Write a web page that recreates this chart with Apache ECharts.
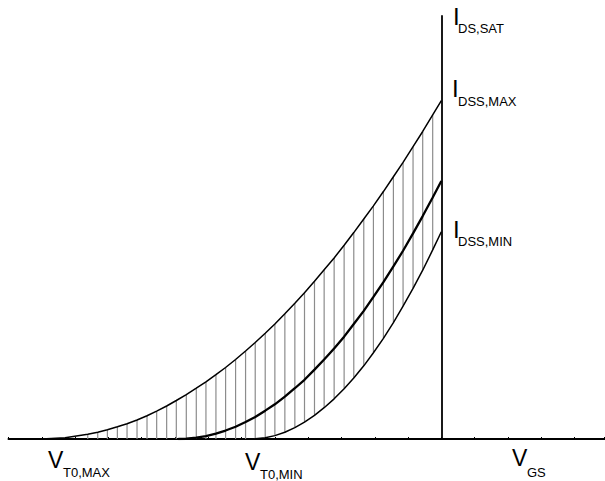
<!DOCTYPE html>
<html>
<head>
<meta charset="utf-8">
<script src="https://cdn.jsdelivr.net/npm/echarts@6/dist/echarts.min.js"></script>
<style>
  html, body { margin: 0; padding: 0; background: #fff; }
  #chart { width: 605px; height: 481px; }
</style>
</head>
<body>
<div id="chart"></div>
<script>
// hatch positions (x, in V units) and curve heights read at each of them
const hatchX = [-10.62, -10.32, -10.03, -9.73, -9.44, -9.14, -8.84, -8.55, -8.25, -7.96,
  -7.66, -7.36, -7.07, -6.77, -6.48, -6.18, -5.88, -5.59, -5.29, -5.0,
  -4.7, -4.4, -4.11, -3.81, -3.52, -3.22, -2.92, -2.63, -2.33, -2.04,
  -1.74, -1.44, -1.15, -0.85, -0.56, -0.26]
// I_DSS,MAX curve
const outerY = [1.1, 1.6, 2.2, 2.9, 3.6, 4.5, 5.5, 6.6, 7.8, 9.1,
  10.5, 12.0, 13.5, 15.2, 16.9, 18.8, 20.8, 22.8, 25.0, 27.2,
  29.6, 32.1, 34.6, 37.3, 40.0, 42.8, 45.8, 48.8, 52.0, 55.1,
  58.5, 62.0, 65.4, 69.1, 72.7, 76.6]
// I_DSS,MIN curve (0 left of V_T0,MIN)
const innerY = [0, 0, 0, 0, 0, 0, 0, 0, 0, 0,
  0, 0, 0, 0, 0, 0, 0, 0.04, 0.3, 0.8,
  1.6, 2.7, 4.0, 5.6, 7.4, 9.5, 11.9, 14.4, 17.3, 20.4,
  23.8, 27.5, 31.4, 35.6, 39.9, 44.7]
// typical curve
const midX = [-7.9, -7.66, -7.36, -7.07, -6.77, -6.48, -6.18, -5.88, -5.59, -5.29,
  -5.0, -4.7, -4.4, -4.11, -3.81, -3.52, -3.22, -2.92, -2.63, -2.33,
  -2.04, -1.74, -1.44, -1.15, -0.85, -0.56, -0.26, 0]
const midY = [0, 0.06, 0.3, 0.7, 1.25, 2.0, 2.9, 4.0, 5.2, 6.7,
  8.2, 10.0, 12.0, 14.0, 16.4, 18.8, 21.4, 24.2, 27.2, 30.3,
  33.6, 37.1, 40.8, 44.5, 48.6, 52.7, 57.1, 61.0]
// end points
const vt0Max = -12
const vt0Min = -5.75
const idssMax = 80
const idssMin = 49

const font = 'Liberation Sans, Arial, sans-serif'

const chart = echarts.init(document.getElementById('chart'), null, { renderer: 'svg' })

const outerData = [[vt0Max, 0], [-11.3, 0.3]]
hatchX.forEach((x, i) => outerData.push([x, outerY[i]]))
outerData.push([0, idssMax])

const innerData = [[vt0Min, 0]]
hatchX.forEach((x, i) => {
  if (x > vt0Min) innerData.push([x, innerY[i]])
})
innerData.push([0, idssMin])

const midData = midX.map((x, i) => [x, midY[i]])

const hatchData = hatchX.map((x, i) => [x, outerY[i], innerY[i]])

function label(x, y, size, txt) {
  return {
    type: 'text',
    x: x,
    y: y,
    style: {
      text: txt,
      fontSize: size,
      fontFamily: font,
      fill: '#000',
      verticalAlign: 'middle'
    }
  }
}

const option = {
  animation: false,
  grid: {
    left: 8.5,
    right: 0.5,
    top: 16,
    bottom: 42
  },
  xAxis: {
    type: 'value',
    min: -13,
    max: 4.9,
    interval: 1,
    axisLine: {
      onZero: true,
      lineStyle: { color: '#000', width: 2 }
    },
    axisTick: {
      show: true,
      inside: true,
      length: 2,
      lineStyle: { color: '#000', width: 1 }
    },
    axisLabel: { show: false },
    splitLine: { show: false }
  },
  yAxis: {
    type: 'value',
    min: 0,
    max: 100,
    axisLine: {
      show: true,
      onZero: true,
      lineStyle: { color: '#000', width: 1.8 }
    },
    axisTick: { show: false },
    axisLabel: { show: false },
    splitLine: { show: false }
  },
  series: [
    {
      type: 'custom',
      z: 1,
      data: hatchData,
      renderItem(params, api) {
        const p1 = api.coord([api.value(0), api.value(1)])
        const p2 = api.coord([api.value(0), api.value(2)])
        return {
          type: 'line',
          shape: { x1: p1[0], y1: p1[1], x2: p2[0], y2: p2[1] },
          style: { stroke: '#8c8c8c', lineWidth: 1.2 }
        }
      }
    },
    {
      type: 'line',
      z: 3,
      data: outerData,
      showSymbol: false,
      lineStyle: { color: '#000', width: 1.5 }
    },
    {
      type: 'line',
      z: 3,
      data: midData,
      showSymbol: false,
      lineStyle: { color: '#000', width: 2.3 }
    },
    {
      type: 'line',
      z: 3,
      data: innerData,
      showSymbol: false,
      lineStyle: { color: '#000', width: 1.5 }
    }
  ],
  graphic: [
    label(453, 16, 24, 'I'),
    label(458, 28.5, 13, 'DS,SAT'),
    label(452, 88.5, 24, 'I'),
    label(458, 101, 13, 'DSS,MAX'),
    label(453, 229.5, 24, 'I'),
    label(458, 241.5, 13, 'DSS,MIN'),
    label(48, 460, 23, 'V'),
    label(63, 472, 13, 'T0,MAX'),
    label(245, 462, 23, 'V'),
    label(260, 474, 13, 'T0,MIN'),
    label(512, 458, 23, 'V'),
    label(527, 472, 13, 'GS')
  ]
}

chart.setOption(option)
</script>
</body>
</html>
